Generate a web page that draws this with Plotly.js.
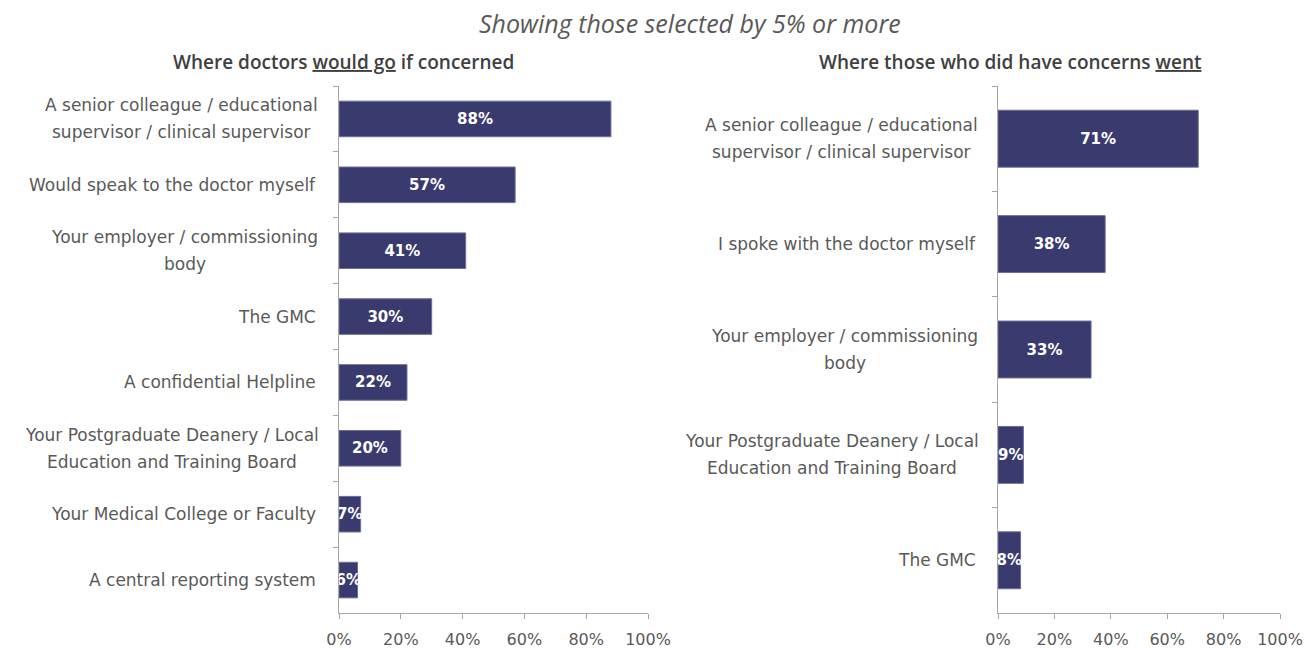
<!DOCTYPE html>
<html><head><meta charset="utf-8">
<script src="https://cdn.plot.ly/plotly-3.0.1.min.js"></script>
<style>html,body{margin:0;padding:0;background:#fff;}#chart{width:1304px;height:648px;}</style>
</head><body><div id="chart"></div>
<script>
const chartTitle = "Showing those selected by 5% or more";
const leftTitle = "Where doctors <u>would go</u> if concerned";
const rightTitle = "Where those who did have concerns <u>went</u>";
const leftCats = ["A senior colleague / educational<br>supervisor / clinical supervisor", "Would speak to the doctor myself", "Your employer / commissioning<br>body", "The GMC", "A confidential Helpline", "Your Postgraduate Deanery / Local<br>Education and Training Board", "Your Medical College or Faculty", "A central reporting system"];
const leftVals = [88, 57, 41, 30, 22, 20, 7, 6];
const rightCats = ["A senior colleague / educational<br>supervisor / clinical supervisor", "I spoke with the doctor myself", "Your employer / commissioning<br>body", "Your Postgraduate Deanery / Local<br>Education and Training Board", "The GMC"];
const rightVals = [71, 38, 33, 9, 8];
const xTicks = [0, 20, 40, 60, 80, 100];
const xTickText = ["0%", "20%", "40%", "60%", "80%", "100%"];

const W = 1304, H = 648;
const barColor = '#393b6f';
const axisColor = '#a6a6a6';
const textColor = '#595959';
const labelFont = 'DejaVu Sans';
const labelSize = 17;

function bar(cats, vals, xa, ya) {
  return {
    type: 'bar', orientation: 'h', x: vals, y: cats, xaxis: xa, yaxis: ya,
    marker: {color: barColor, line: {color: '#6b6d98', width: 1}},
    width: 0.54,
    text: vals.map(v => v + '%'), textposition: 'inside', insidetextanchor: 'middle',
    constraintext: 'none', textangle: 0,
    textfont: {family: labelFont, size: 15, color: '#ffffff', weight: 'bold'},
    hoverinfo: 'skip', cliponaxis: false
  };
}

const yDomain = [(H - 613) / H, (H - 86) / H];
function xAxis(d0, d1, anchor) {
  return {domain: [d0 / W, d1 / W], range: [0, 100], anchor: anchor, tickmode: 'array',
    tickvals: xTicks, ticktext: xTickText,
    showgrid: false, zeroline: false, showline: true, linecolor: axisColor, linewidth: 1,
    ticks: 'outside', ticklen: 5, tickcolor: axisColor, ticklabelstandoff: 7,
    tickfont: {family: labelFont, size: 16, color: textColor}, fixedrange: true};
}
function yAxis(anchor) {
  return {domain: yDomain, type: 'category', autorange: 'reversed', anchor: anchor,
    tickson: 'boundaries', ticks: 'outside', ticklen: 5, tickcolor: axisColor,
    showticklabels: false, showgrid: false, zeroline: false, showline: true, linecolor: axisColor,
    fixedrange: true};
}

const ctx = document.createElement('canvas').getContext('2d');
ctx.font = labelSize + 'px "' + labelFont + '"';
function labelAnns(cats, yref, rightEdge) {
  const anns = [];
  cats.forEach(c => {
    const lines = c.split('<br>');
    if (lines.length === 1) {
      anns.push({xref: 'paper', yref: yref, x: rightEdge / W, y: c, xanchor: 'right', yanchor: 'middle',
        text: c, showarrow: false, font: {family: labelFont, size: labelSize, color: textColor}});
    } else {
      const maxW = Math.max(...lines.map(l => ctx.measureText(l).width));
      const cx = rightEdge - maxW / 2;
      const gap = 27;
      lines.forEach((l, i) => {
        anns.push({xref: 'paper', yref: yref, x: cx / W, y: c, xanchor: 'center', yanchor: 'middle',
          yshift: ((lines.length - 1) / 2 - i) * gap,
          text: l, showarrow: false, font: {family: labelFont, size: labelSize, color: textColor}});
      });
    }
  });
  return anns;
}

const annotations = [
  {xref: 'paper', yref: 'paper', x: 690 / W, y: 1 - 23 / H, xanchor: 'center', yanchor: 'middle', showarrow: false,
   text: chartTitle, font: {family: 'Open Sans', size: 25, color: textColor, style: 'italic'}},
  {xref: 'paper', yref: 'paper', x: 344 / W, y: 1 - 62 / H, xanchor: 'center', yanchor: 'middle', showarrow: false,
   text: leftTitle, font: {family: 'Open Sans', size: 19, color: '#404040', weight: 600}},
  {xref: 'paper', yref: 'paper', x: 1010 / W, y: 1 - 62 / H, xanchor: 'center', yanchor: 'middle', showarrow: false,
   text: rightTitle, font: {family: 'Open Sans', size: 19, color: '#404040', weight: 600}}
].concat(labelAnns(leftCats, 'y', 318)).concat(labelAnns(rightCats, 'y2', 978));

const layout = {
  width: W, height: H, margin: {l: 0, r: 0, t: 0, b: 0},
  paper_bgcolor: '#ffffff', plot_bgcolor: '#ffffff', showlegend: false,
  xaxis: xAxis(339, 648, 'y'), yaxis: yAxis('x'),
  xaxis2: xAxis(998, 1280, 'y2'), yaxis2: yAxis('x2'),
  annotations: annotations
};

Plotly.newPlot('chart', [bar(leftCats, leftVals, 'x', 'y'), bar(rightCats, rightVals, 'x2', 'y2')], layout,
  {displayModeBar: false, staticPlot: true});
</script></body></html>
